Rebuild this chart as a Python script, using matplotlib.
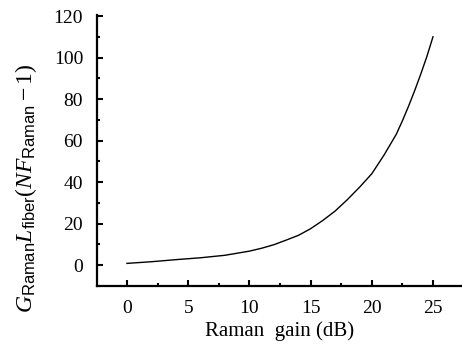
import numpy as np
import matplotlib
matplotlib.use('Agg')
import matplotlib.pyplot as plt
from matplotlib.ticker import MultipleLocator

# values
gain_db = [0, 2, 4, 6, 8, 10, 11, 12, 13, 14, 15, 16, 17, 18, 19, 20,
           21, 22, 22.5, 23, 23.5, 24, 24.5, 25]
penalty = [0.8, 1.6, 2.6, 3.5, 4.7, 6.7, 8.1, 9.8, 12.0, 14.3, 17.5, 21.5,
           26.0, 31.5, 37.5, 44.0, 53.0, 63.0, 69.5, 76.5, 84.0, 92.0,
           100.5, 110.0]

x_ticks = [0, 5, 10, 15, 20, 25]
y_ticks = [0, 20, 40, 60, 80, 100, 120]

plt.rcParams['font.family'] = ['Liberation Serif', 'DejaVu Serif']
plt.rcParams['mathtext.fontset'] = 'custom'
plt.rcParams['mathtext.rm'] = 'Liberation Serif'
plt.rcParams['mathtext.it'] = 'Liberation Serif:italic'
plt.rcParams['mathtext.sf'] = 'Liberation Sans'

fig = plt.figure(figsize=(4.62, 3.52), dpi=100)
ax = fig.add_axes([97 / 462, 1 - 286 / 352, 1 - 97 / 462, (286 - 15) / 352])

ax.plot(gain_db, penalty, color='black', lw=1.0)

ax.set_xlim(-2.45, 27.37)
ax.set_ylim(-10.1, 120.5)
ax.set_xticks(x_ticks)
ax.set_yticks(y_ticks)
ax.xaxis.set_minor_locator(MultipleLocator(2.5))
ax.yaxis.set_minor_locator(MultipleLocator(10))

for side in ['top', 'right']:
    ax.spines[side].set_visible(False)
for side in ['left', 'bottom']:
    ax.spines[side].set_linewidth(1.6)

ax.tick_params(which='major', direction='in', length=4, width=1.5,
               labelsize=14, pad=10)
ax.tick_params(which='minor', direction='in', length=2, width=1.5)
ax.tick_params(axis='x', which='major', pad=10)

ax.set_xlabel('Raman  gain (dB)', fontsize=15, labelpad=3)
ax.set_ylabel(r'$G_{\mathsf{Raman}}L_{\mathsf{fiber}}(NF_{\mathsf{Raman}}-1)$',
              fontsize=17)
ax.yaxis.set_label_coords(-0.16, 0.36)

fig.savefig('out.png', dpi=100)
